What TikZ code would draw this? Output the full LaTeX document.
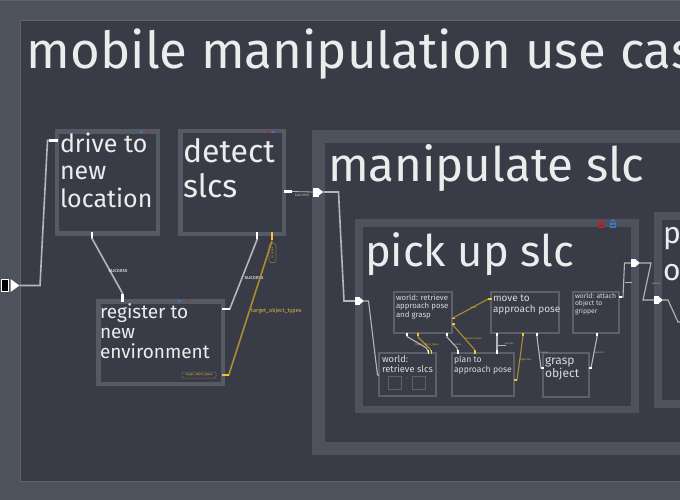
\documentclass[tikz,border=0pt]{standalone}
\usepackage{fontspec}
\setmainfont{Fira Sans}
\usetikzlibrary{calc}
\definecolor{bgdark}{HTML}{393C47}
\definecolor{framegray}{HTML}{4E525C}
\definecolor{lightline}{HTML}{5E626D}
\definecolor{boxgray}{HTML}{565A65}
\definecolor{sboxgray}{HTML}{5C606B}
\definecolor{txt}{HTML}{ECECEC}
\definecolor{itxt}{HTML}{DADADA}
\definecolor{wiregray}{HTML}{B4B6BC}
\definecolor{ywire}{HTML}{AC8C32}
\definecolor{ytab}{HTML}{F2C232}
\definecolor{ylabel}{HTML}{E3B43A}
\definecolor{tagline}{HTML}{7A6C44}
\definecolor{lockred}{HTML}{B0282C}
\definecolor{lockblue}{HTML}{3A78C2}
\newcommand\mylines[1]{\begin{tabular}[t]{@{}l@{}}#1\end{tabular}}
\begin{document}
\begin{tikzpicture}[x=1pt,y=-1pt,
  container/.style={fill=bgdark, inner sep=0pt, outer sep=0pt, anchor=north west},
  bigbox/.style={draw=boxgray, line width=4.5pt, fill=bgdark, inner sep=0pt, outer sep=0pt},
  smallbox/.style={draw=sboxgray, line width=1.3pt, fill=bgdark, inner sep=0pt, outer sep=0pt},
  boxtext/.style={anchor=base west, inner sep=0pt, outer sep=0pt, text=txt},
  itext/.style={anchor=base west, inner sep=0pt, outer sep=0pt, text=itxt},
  wire/.style={draw=wiregray, line width=1.6pt},
  wiretab/.style={draw=white, line width=2.8pt},
  ywirest/.style={draw=ywire, line width=1.6pt},
  ytabst/.style={draw=ytab, line width=2.8pt},
  iwire/.style={draw=wiregray, line width=1.1pt},
  itab/.style={draw=white, line width=1.8pt},
  iywire/.style={draw=ywire, line width=1.1pt},
  iytab/.style={draw=ytab, line width=1.8pt},
  plug/.style={fill=white, inner sep=0pt, outer sep=0pt, minimum width=5.5pt, minimum height=9pt},
  wlabel/.style={font=\fontsize{5.5}{6}\selectfont, text=white, inner sep=0pt},
  tinylabel/.style={font=\fontsize{2.6}{3}\selectfont, text=wiregray, inner sep=0pt},
  tinyylabel/.style={font=\fontsize{2.6}{3}\selectfont, text=ylabel, inner sep=0pt},
  dotst/.style={circle, inner sep=0pt, minimum size=3pt}
]
\useasboundingbox (0,0) rectangle (680,500);
\clip (0,0) rectangle (680,500);
\fill[framegray] (0,0) rectangle (680,500);
\draw[lightline, line width=1pt] (0,0.5) -- (680,0.5);

% main container
\node[container, draw=lightline, line width=1pt, minimum width=700pt, minimum height=460.5pt] (usecase) at (20.5,20.5) {};
\node[boxtext, font=\fontsize{51}{55}\selectfont] (usecase-t) at (27,69) {mobile manipulation use case};

% top level states
\node[bigbox, minimum width=101pt, minimum height=102pt] (drive) at (107.5,182.5) {};
\node[boxtext, font=\fontsize{25}{27}\selectfont] (drive-t) at (60,153) {\mylines{drive to\\new\\location}};
\node[dotst, fill=lockblue] (drive-d1) at (141,132) {};
\node[dotst, fill=lockred] (drive-d2) at (149,132) {};

\node[bigbox, minimum width=103.5pt, minimum height=102.5pt] (detect) at (232,182.5) {};
\node[boxtext, font=\fontsize{32}{35}\selectfont] (detect-t) at (183,163) {\mylines{detect\\slcs}};
\node[dotst, fill=lockred] (detect-d1) at (267,132) {};
\node[dotst, fill=lockblue] (detect-d2) at (273,132) {};

\node[bigbox, minimum width=124.5pt, minimum height=82.5pt] (register) at (160.5,342.5) {};
\node[boxtext, font=\fontsize{19}{20}\selectfont] (register-t) at (100,318) {\mylines{register to\\new\\environment}};
\node[dotst, fill=lockblue] (register-d1) at (179,301) {};
\node[dotst, fill=lockred] (register-d2) at (188,301) {};

% manipulate slc container
\node[container, draw=framegray, line width=13pt, minimum width=420pt, minimum height=311.5pt] (manip) at (318.5,136.5) {};
\node[boxtext, font=\fontsize{47.5}{50}\selectfont] (manip-t) at (328,182) {manipulate slc};

% pick up slc container
\node[container, draw=framegray, line width=7.5pt, minimum width=276.25pt, minimum height=186.5pt] (pickup) at (358.75,223) {};
\node[boxtext, font=\fontsize{43.5}{46}\selectfont] (pickup-t) at (365,266) {pick up slc};
\foreach \lx/\lc in {601/lockred,613/lockblue}{
  \fill[\lc] (\lx-3,222.5) rectangle (\lx+3,227.5);
  \draw[\lc, line width=1pt] (\lx-1.8,222.6) -- ++(0,-1.2) arc[start angle=180, end angle=360, radius=1.8] -- ++(0,1.2);
  \fill[bgdark] (\lx-2,224.6) rectangle (\lx+2,225.4);
}

% partial right container
\node[container, draw=framegray, line width=8pt, minimum width=80pt, minimum height=188pt] (place) at (658,215.5) {};
\node[boxtext, font=\fontsize{30}{37}\selectfont] (place-t) at (663,243) {\mylines{p\\o}};

% inner states
\node[smallbox, minimum width=58pt, minimum height=41pt] (wra) at (423,312.5) {};
\node[itext, font=\fontsize{7.8}{8.5}\selectfont] (wra-t) at (396,300) {\mylines{world: retrieve\\approach pose\\and grasp}};
\node[smallbox, minimum width=68pt, minimum height=41pt] (move) at (525,312.5) {};
\node[itext, font=\fontsize{10}{11.5}\selectfont] (move-t) at (493,301) {\mylines{move to\\approach pose}};
\node[smallbox, minimum width=46pt, minimum height=41pt] (attach) at (596,312.5) {};
\node[itext, font=\fontsize{6.8}{7.6}\selectfont] (attach-t) at (575,298) {\mylines{world: attach\\object to\\gripper}};
\node[smallbox, minimum width=57pt, minimum height=43pt] (wrs) at (407.5,374.5) {};
\node[itext, font=\fontsize{9.3}{10.5}\selectfont] (wrs-t) at (382,362) {\mylines{world:\\retrieve slcs}};
\node[smallbox, line width=1pt, minimum width=13pt, minimum height=13pt] (wrs-a) at (394.5,382.5) {};
\node[smallbox, line width=1pt, minimum width=13pt, minimum height=13pt] (wrs-b) at (418.5,382.5) {};
\node[circle, fill=sboxgray, inner sep=0pt, minimum size=1.2pt] (wrs-dot) at (407,378) {};
\node[smallbox, minimum width=62pt, minimum height=43pt] (plan) at (483,374.5) {};
\node[itext, font=\fontsize{8.6}{10}\selectfont] (plan-t) at (454,362) {\mylines{plan to\\approach pose}};
\node[smallbox, minimum width=46pt, minimum height=44pt] (grasp) at (566,375) {};
\node[itext, font=\fontsize{12}{13}\selectfont] (grasp-t) at (545,364) {\mylines{grasp\\object}};

% ---------- top level connectors ----------
\node[fill=black, draw=white, line width=1pt, inner sep=0pt, minimum width=7pt, minimum height=12pt] (start) at (4.5,285.5) {};
\coordinate (start-tip) at (19.5,285.5);
\fill[white] (10.5,279) -- (start-tip) -- (10.5,292) -- cycle;
\draw[wire] (start-tip) -- (40,285.5) -- (47.5,140.5) -- ([yshift=42pt]drive.west);
\draw[wiretab] ([xshift=-8.5pt,yshift=42pt]drive.west) -- ([xshift=1pt,yshift=42pt]drive.west);

\draw[wire] ([xshift=-15.5pt]drive.south) -- ++(0,5) -- ([xshift=-38pt,yshift=8pt]register.north) -- ([xshift=-38pt]register.north);
\draw[wiretab] ([xshift=-15.5pt,yshift=1.5pt]drive.south) -- ++(0,6);
\draw[wiretab] ([xshift=-38pt,yshift=7pt]register.north) -- ([xshift=-38pt,yshift=-1pt]register.north);
\node[wlabel] (lab1) at (118,271) {success};

\draw[wire] ([xshift=25pt]detect.south) -- ++(0,6) -- ([xshift=7pt,yshift=33.5pt]register.east) -- ([yshift=33.5pt]register.east);
\draw[wiretab] ([xshift=25pt,yshift=1.5pt]detect.south) -- ++(0,7);
\draw[wiretab] ([xshift=7pt,yshift=33.5pt]register.east) -- ([xshift=-1pt,yshift=33.5pt]register.east);
\node[wlabel] (lab2) at (254,278) {success};

\node[draw=tagline, rounded corners=1.5pt, line width=0.6pt, rotate=90, minimum width=19pt, minimum height=7pt, inner sep=0pt, font=\fontsize{2.6}{3}\selectfont, text=ylabel] (typetag) at (272.5,253) {slc\_types};
\draw[ywirest] ([xshift=40pt,yshift=-7pt]detect.south) -- ([xshift=6pt,yshift=-32.5pt]register.east) -- ([yshift=-32.5pt]register.east);
\draw[ytabst] ([xshift=40pt,yshift=1.5pt]detect.south) -- ++(0,7.5);
\draw[ytabst] ([xshift=6.5pt,yshift=-32.5pt]register.east) -- ([xshift=-1pt,yshift=-32.5pt]register.east);
\node[anchor=west, font=\fontsize{5.6}{6}\selectfont, text=ylabel, inner sep=0pt] (lab3) at (251,311) {target\_object\_types};
\node[draw=tagline, fill=bgdark, rounded corners=1.2pt, line width=0.5pt, minimum width=34pt, minimum height=6pt, inner sep=0pt, font=\fontsize{3}{3}\selectfont, text=ylabel] (rtag) at (199,375) {target\_object\_types};

% detect -> manipulate
\node[plug] (plug1) at (316,192) {};
\coordinate (plug1-tip) at (323.5,192);
\fill[white] (318.5,188.5) -- (plug1-tip) -- (318.5,195.5) -- cycle;
\draw[wiretab] ([yshift=-9pt]detect.east) -- ++(8.5,0);
\draw[draw=wiregray, line width=0.8pt] ([xshift=8pt,yshift=-9pt]detect.east) -- (plug1.west);
\node[font=\fontsize{4.2}{5}\selectfont, text=wiregray, inner sep=0pt] (lab4) at (302,195) {success};
\node[plug, minimum width=5pt, minimum height=8pt] (plug2) at (357.5,301) {};
\coordinate (plug2-tip) at (364,301);
\fill[white] (359.5,297.5) -- (plug2-tip) -- (359.5,304.5) -- cycle;
\draw[wire] (plug1-tip) -- (338.5,192) -- (344,301) -- (plug2.west);
\draw[iwire] (plug2-tip) -- (368.5,301) -- (377.5,375) -- ([yshift=-0.5pt]wrs.west);

% ---------- inner connectors ----------
\draw[iwire] ([xshift=-16pt]wra.south) -- ++(0,3.5) -- ([xshift=19pt,yshift=5pt]wrs.north) -- ([xshift=21pt]wrs.north);
\draw[itab] ([xshift=-16pt,yshift=0.5pt]wra.south) -- ++(0,3);
\draw[itab] ([xshift=21pt,yshift=3pt]wrs.north) -- ([xshift=21pt,yshift=-0.5pt]wrs.north);

\draw[iywire] ([xshift=-5pt]wra.south) -- ++(0,4) -- ([xshift=22.5pt,yshift=4pt]wrs.north) -- ([xshift=24pt]wrs.north);
\draw[iytab] ([xshift=-5pt,yshift=0.5pt]wra.south) -- ++(0,3);
\draw[iytab] ([xshift=24pt,yshift=3pt]wrs.north) -- ([xshift=24pt,yshift=-0.5pt]wrs.north);
\node[tinyylabel] (ilab1) at (427,345) {target\_object\_types};

\draw[iwire] ([xshift=24pt]wra.south) -- ++(0,4) -- ([xshift=-26pt,yshift=5pt]plan.north) -- ([xshift=-25pt]plan.north);
\draw[itab] ([xshift=24pt,yshift=0.5pt]wra.south) -- ++(0,3);
\draw[itab] ([xshift=-25pt,yshift=3pt]plan.north) -- ([xshift=-25pt,yshift=-0.5pt]plan.north);
\node[tinylabel] (ilab2) at (457,345) {success};

\draw[iywire] ([yshift=-6pt]wra.east) -- ([xshift=-3pt,yshift=13.5pt]move.west) -- ([yshift=13.5pt]move.west);
\draw[iytab] ([xshift=-0.5pt,yshift=-6pt]wra.east) -- ++(3,0);
\draw[iytab] ([xshift=-3pt,yshift=13.5pt]move.west) -- ([xshift=0.5pt,yshift=13.5pt]move.west);
\node[tinyylabel] (ilab3) at (474,308) {pose};

\draw[iywire] ([yshift=-11.5pt]wra.east) -- ([xshift=-9pt,yshift=4pt]plan.north) -- ([xshift=-8pt]plan.north);
\draw[iytab] ([xshift=-0.5pt,yshift=-11.5pt]wra.east) -- ++(3,0);
\draw[iytab] ([xshift=-8pt,yshift=3pt]plan.north) -- ([xshift=-8pt,yshift=-0.5pt]plan.north);
\node[tinyylabel] (ilab4) at (473,339) {approach pose};

\draw[iwire] ([xshift=-28pt]move.south) -- ([xshift=14pt]plan.north);
\draw[itab] ([xshift=-28pt,yshift=0.5pt]move.south) -- ++(0,3);
\draw[itab] ([xshift=14pt,yshift=3pt]plan.north) -- ([xshift=14pt,yshift=-0.5pt]plan.north);
\draw[draw=wiregray, line width=0.5pt] (498,345) -- (506,345);
\node[tinylabel] (ilab5) at (509,343.5) {success};

\draw[iywire] ([xshift=-2pt]move.south) -- ++(0,3) -- ([xshift=3pt,yshift=-5.5pt]plan.east) -- ([yshift=-5.5pt]plan.east);
\draw[iytab] ([xshift=-2pt,yshift=0.5pt]move.south) -- ++(0,3);
\draw[iytab] ([xshift=3pt,yshift=-5.5pt]plan.east) -- ([xshift=-0.5pt,yshift=-5.5pt]plan.east);
\node[tinyylabel] (ilab6) at (526,360) {trajectory};

\draw[iwire] ([xshift=12pt]move.south) -- ++(0,4) -- ([xshift=-2pt,yshift=7pt]grasp.west) -- ([yshift=7pt]grasp.west);
\draw[itab] ([xshift=12pt,yshift=0.5pt]move.south) -- ++(0,3);
\draw[itab] ([xshift=-2.5pt,yshift=7pt]grasp.west) -- ([xshift=0.5pt,yshift=7pt]grasp.west);
\node[tinylabel] (ilab7) at (544,353) {success};

\draw[iwire] ([xshift=1pt]attach.south) -- ++(0,4) -- ([xshift=2pt,yshift=7pt]grasp.east) -- ([yshift=7pt]grasp.east);
\draw[itab] ([xshift=1pt,yshift=0.5pt]attach.south) -- ++(0,3);
\draw[itab] ([xshift=2.5pt,yshift=7pt]grasp.east) -- ([xshift=-0.5pt,yshift=7pt]grasp.east);
\node[tinylabel] (ilab8) at (599,353) {success};

% exit of pick up slc
\node[plug, minimum width=5pt, minimum height=8pt] (plug3) at (633.5,263) {};
\coordinate (plug3-tip) at (640,263);
\fill[white] (635.5,259.5) -- (plug3-tip) -- (635.5,266.5) -- cycle;
\draw[iwire] ([yshift=15.5pt]attach.east) -- ++(4,0) -- (624.5,263) -- (plug3.west);
\draw[itab] ([xshift=-0.5pt,yshift=15.5pt]attach.east) -- ++(3,0);
\draw[draw=wiregray, line width=0.5pt] (625,282) -- (632,282);

\node[plug, minimum width=5pt, minimum height=8pt] (plug4) at (656.5,300) {};
\coordinate (plug4-tip) at (663,300);
\fill[white] (658.5,296.5) -- (plug4-tip) -- (658.5,303.5) -- cycle;
\draw[iwire] (plug3-tip) -- (651,263) -- (643,300) -- (plug4.west);
\node[tinylabel] (ilab9) at (656,284) {success};
\coordinate (place-in) at (684,322);
\draw[iwire] (plug4-tip) -- (668,300) -- (678,322) -- (place-in);
\end{tikzpicture}
\end{document}
